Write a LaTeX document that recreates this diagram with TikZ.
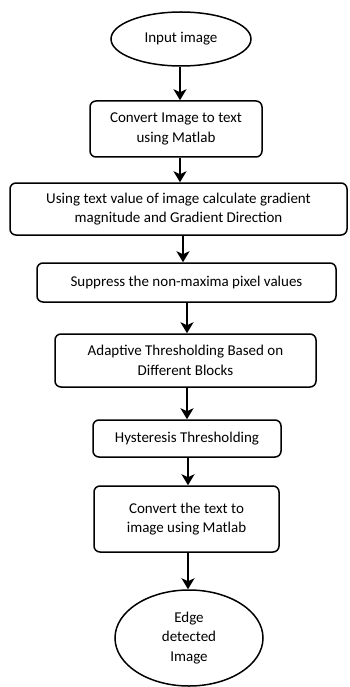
\documentclass[tikz,border=0pt]{standalone}
\usepackage{fontspec}
\setmainfont{Carlito}
\usetikzlibrary{shapes.geometric,arrows.meta}
\begin{document}
\begin{tikzpicture}[x=1pt,y=-1pt,
  every node/.style={font=\fontsize{15}{19.5}\selectfont, text=black, inner sep=0pt, align=center},
  stepbox/.style={draw, rounded corners=6pt, line width=1.5pt},
  termnode/.style={draw, ellipse, line width=1.5pt},
  arr/.style={line width=2.8pt, -{Stealth[length=11pt,width=13pt,inset=3pt]}}]
\useasboundingbox (0,0) rectangle (349,687);
\node[termnode, minimum width=140pt, minimum height=54pt] (in) at (181,39) {Input image};
\node[stepbox, minimum width=172pt, minimum height=56pt] (b2) at (176,129) {Convert Image to text\\using Matlab};
\node[stepbox, minimum width=337pt, minimum height=52pt] (b3) at (178.5,209) {Using text value of image calculate gradient\\magnitude and Gradient Direction};
\node[stepbox, minimum width=299pt, minimum height=39pt] (b4) at (186.5,282.5) {Suppress the non-maxima pixel values};
\node[stepbox, minimum width=261pt, minimum height=53pt] (b5) at (185.5,360.5) {Adaptive Thresholding Based on\\Different Blocks};
\node[stepbox, minimum width=188pt, minimum height=37pt] (b6) at (187,438.5) {Hysteresis Thresholding};
\node[stepbox, minimum width=185pt, minimum height=66pt] (b7) at (186.5,519) {Convert the text to\\image using Matlab};
\node[termnode, minimum width=148pt, minimum height=96pt] (out) at (189,638) {Edge\\detected\\Image};
\coordinate (c1) at (180,0);
\coordinate (c2) at (183,0);
\coordinate (c3) at (187,0);
\coordinate (c4) at (188,0);
\draw[arr] (in.south -| c1) -- (b2.north -| c1);
\draw[arr] (b2.south -| c1) -- (b3.north -| c1);
\draw[arr] (b3.south -| c2) -- (b4.north -| c2);
\draw[arr] (b4.south -| c3) -- (b5.north -| c3);
\draw[arr] (b5.south -| c3) -- (b6.north -| c3);
\draw[arr] (b6.south -| c4) -- (b7.north -| c4);
\draw[arr] (b7.south -| c4) -- (out.north -| c4);
\end{tikzpicture}
\end{document}
